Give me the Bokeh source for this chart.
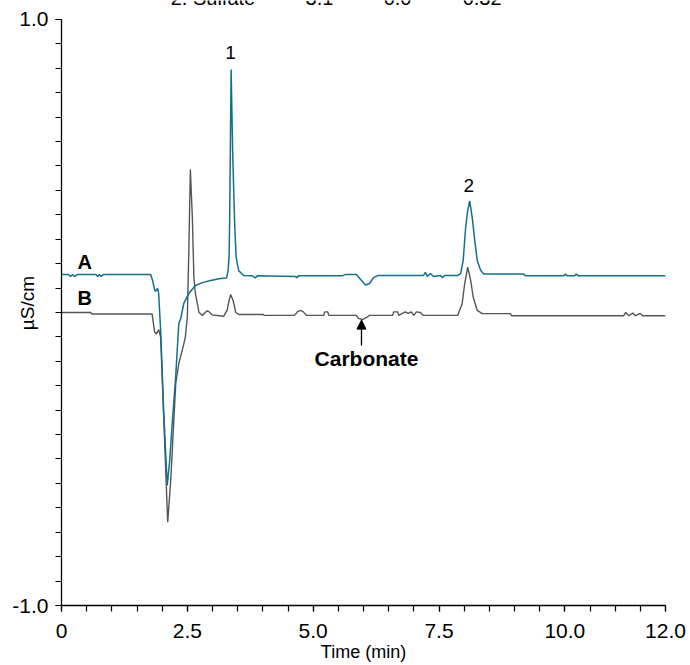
from bokeh.plotting import figure
from bokeh.models import Range1d, FixedTicker, Label, Arrow, NormalHead, ColumnDataSource
from bokeh.core.properties import value
from bokeh.embed import file_html
from bokeh.resources import INLINE

# ---- data ----
time_a = [0.00, 0.14, 0.18, 0.22, 0.26, 0.32, 0.68, 0.72, 0.75, 0.79, 0.83, 1.77, 1.81, 1.85,
          1.87, 1.89, 1.91, 1.93, 1.97, 2.03, 2.10, 2.15, 2.20, 2.27, 2.33, 2.37, 2.43, 2.53,
          2.66, 2.80, 2.96, 3.16, 3.28, 3.31, 3.33, 3.34, 3.37, 3.40, 3.44, 3.47, 3.52, 3.62,
          3.79, 3.85, 3.89, 4.65, 4.67, 4.71, 5.58, 5.64, 5.86, 5.96, 6.04, 6.12, 6.20, 6.28,
          7.19, 7.23, 7.27, 7.33, 7.39, 7.53, 7.57, 7.61, 7.87, 7.93, 7.98, 8.03, 8.07, 8.11,
          8.16, 8.21, 8.26, 8.33, 8.39, 9.18, 9.22, 9.97, 10.01, 10.05, 10.19, 10.23, 10.27, 12.00]
signal_a = [0.130, 0.130, 0.123, 0.130, 0.123, 0.130, 0.130, 0.123, 0.130, 0.123, 0.130, 0.130, 0.109, 0.078,
            0.072, 0.078, 0.082, 0.065, -0.061, -0.334, -0.590, -0.505, -0.379, -0.215, -0.038, -0.020, 0.031, 0.065,
            0.092, 0.102, 0.109, 0.116, 0.118, 0.143, 0.195, 0.304, 0.829, 0.553, 0.304, 0.188, 0.143, 0.126,
            0.125, 0.118, 0.125, 0.123, 0.118, 0.125, 0.125, 0.130, 0.130, 0.109, 0.094, 0.099, 0.119, 0.126,
            0.126, 0.137, 0.123, 0.133, 0.123, 0.126, 0.119, 0.126, 0.126, 0.133, 0.177, 0.290, 0.348, 0.381,
            0.324, 0.246, 0.177, 0.143, 0.131, 0.131, 0.125, 0.125, 0.131, 0.125, 0.125, 0.131, 0.125, 0.125]

time_b = [0.00, 0.58, 0.60, 1.80, 1.85, 1.89, 1.93, 1.97, 2.03, 2.11, 2.17, 2.27, 2.33, 2.43,
          2.46, 2.50, 2.53, 2.56, 2.60, 2.63, 2.66, 2.73, 2.80, 2.86, 2.89, 2.93, 2.99, 3.22,
          3.29, 3.33, 3.36, 3.41, 3.46, 3.52, 4.01, 4.03, 4.63, 4.69, 4.75, 4.80, 4.87, 5.21,
          5.23, 5.29, 5.31, 5.86, 5.90, 5.98, 6.06, 6.12, 6.58, 6.60, 6.68, 6.70, 6.83, 6.89,
          6.95, 7.00, 7.05, 7.13, 7.19, 7.87, 7.96, 8.01, 8.07, 8.13, 8.18, 8.26, 8.36, 8.92,
          8.94, 11.17, 11.21, 11.27, 11.35, 11.40, 11.50, 11.54, 12.00]
signal_b = [0.000, 0.000, -0.005, -0.005, -0.067, -0.073, -0.058, -0.084, -0.357, -0.716, -0.573, -0.242, -0.175, -0.107,
            -0.084, -0.016, 0.212, 0.488, 0.324, 0.119, 0.065, 0.001, -0.010, 0.001, 0.005, 0.003, -0.008, -0.013,
            0.007, 0.041, 0.061, 0.041, 0.001, -0.007, -0.007, -0.010, -0.010, 0.003, 0.007, 0.003, -0.010, -0.010,
            0.002, 0.002, -0.010, -0.010, -0.020, -0.024, -0.017, -0.010, -0.010, 0.002, 0.002, -0.010, 0.002, -0.003,
            0.002, -0.010, 0.002, 0.000, -0.010, -0.010, 0.030, 0.098, 0.155, 0.109, 0.052, 0.007, -0.004, -0.004,
            -0.011, -0.011, 0.000, -0.011, -0.002, -0.011, -0.003, -0.011, -0.011]

x_ticks = [0, 2.5, 5, 7.5, 10, 12]
x_tick_labels = ["0", "2.5", "5.0", "7.5", "10.0", "12.0"]
x_minor = [0.5 * k for k in range(25)]
y_ticks = [-1, 1]
y_tick_labels = ["-1.0", "1.0"]
y_minor = [k / 12 for k in range(-12, 13)]

peak_labels = ["1", "2"]
peak_times = [3.36, 8.09]
peak_label_y = [0.887, 0.433]

trace_names = ["A", "B"]
trace_name_y = [0.171, 0.048]

# header row of a table above the chart (only its lower part shows)
header_texts = ["2. Sulfate", "3.1", "0.0", "0.32"]
header_x = [2.17, 4.85, 6.40, 7.97]
header_y = [1.075, 1.075, 1.075, 1.075]

FONT = "Liberation Sans"
TEAL = "#13708a"
GRAY = "#555555"

p = figure(width=690, height=665, x_range=Range1d(0, 12), y_range=Range1d(-1, 1.0648),
           output_backend="svg", toolbar_location=None,
           min_border_left=61, min_border_right=25, min_border_top=0, min_border_bottom=60)
p.outline_line_color = None
p.xgrid.visible = False
p.ygrid.visible = False
p.background_fill_color = "white"
p.border_fill_color = "white"

p.line(time_b, signal_b, line_color=GRAY, line_width=1.4)
p.line(time_a, signal_a, line_color=TEAL, line_width=1.5)

src_head = ColumnDataSource(dict(x=header_x, y=header_y, t=header_texts))
p.text(x="x", y="y", text="t", source=src_head, text_font=value(FONT), text_font_size="20px",
       text_align="left", text_baseline="alphabetic", text_color="black")

xa = p.xaxis[0]
xa.ticker = FixedTicker(ticks=x_ticks, minor_ticks=x_minor)
xa.major_label_overrides = {t: l for t, l in zip(x_ticks, x_tick_labels)}
xa.axis_label = "Time (min)"
for ax in (p.xaxis[0], p.yaxis[0]):
    ax.axis_line_color = "black"
    ax.axis_line_width = 1.3
    ax.major_tick_line_color = "black"
    ax.minor_tick_line_color = "black"
    ax.major_tick_line_width = 1.2
    ax.minor_tick_line_width = 1.2
    ax.major_tick_in = 0
    ax.minor_tick_in = 0
    ax.major_tick_out = 6
    ax.minor_tick_out = 6
    ax.major_label_text_font = FONT
    ax.major_label_text_font_size = "21px"
    ax.major_label_text_color = "black"
    ax.axis_label_text_font = FONT
    ax.axis_label_text_font_size = "18px"
    ax.axis_label_text_font_style = "normal"
    ax.axis_label_text_color = "black"
xa.major_label_standoff = 12
xa.axis_label_standoff = 1

ya = p.yaxis[0]
ya.bounds = (-1, 1)
ya.ticker = FixedTicker(ticks=y_ticks, minor_ticks=y_minor)
ya.major_label_overrides = {t: l for t, l in zip(y_ticks, y_tick_labels)}
ya.major_label_standoff = 7
ya.axis_label = "µS/cm"
ya.axis_label_text_font_size = "19px"
ya.axis_label_standoff = -29

# peak labels
for name, t, yv in zip(peak_labels, peak_times, peak_label_y):
    p.add_layout(Label(x=t, y=yv, text=name, text_font=FONT, text_font_size="19px",
                       text_align="center", text_baseline="middle", text_color="black"))

# trace labels
for name, yv in zip(trace_names, trace_name_y):
    p.add_layout(Label(x=0.46, y=yv, text=name, text_font=FONT, text_font_size="20px",
                       text_font_style="bold", text_align="center", text_baseline="middle",
                       text_color="black"))

# carbonate annotation
p.add_layout(Arrow(x_start=5.96, y_start=-0.113, x_end=5.96, y_end=-0.026, line_color="black",
                   line_width=1.3, end=NormalHead(size=9, fill_color="black", line_color="black")))
p.add_layout(Label(x=6.06, y=-0.157, text="Carbonate", text_font=FONT, text_font_size="21px",
                   text_font_style="bold", text_align="center", text_baseline="middle", text_color="black"))

open("out.html", "w").write(file_html(p, INLINE))
